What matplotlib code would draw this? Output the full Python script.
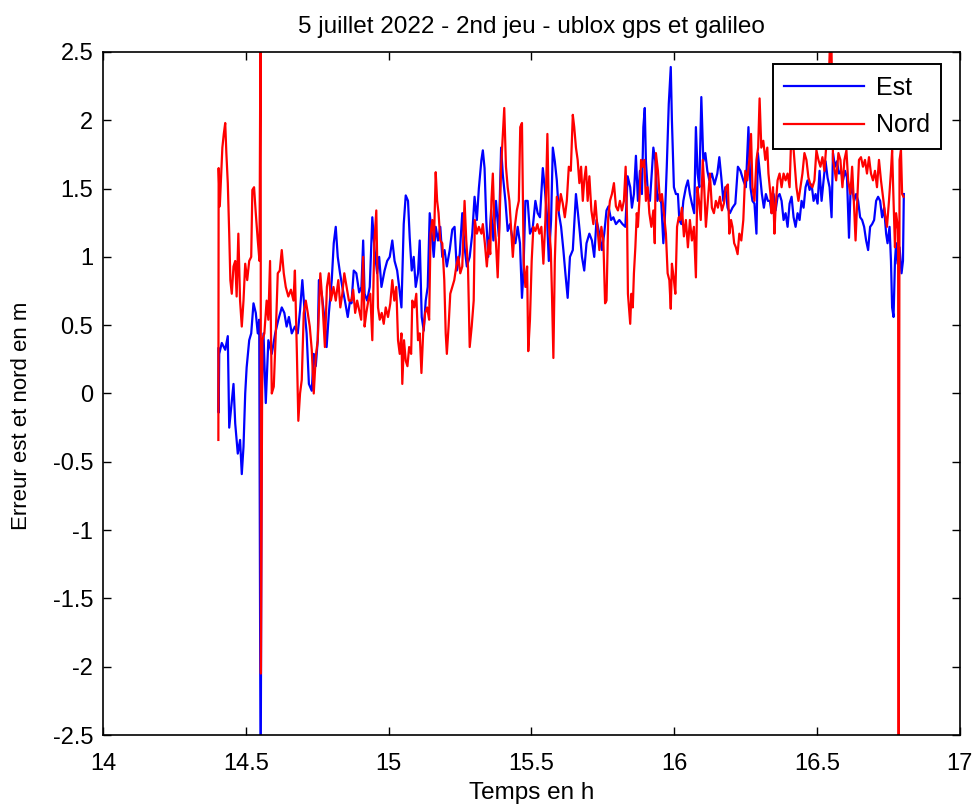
import matplotlib.pyplot as plt

plt.rcParams['font.family'] = ['Liberation Sans', 'DejaVu Sans']

# Est (blue) - hours / metres
est_t = [14.404, 14.405, 14.407, 14.416, 14.428, 14.437, 14.442, 14.449, 14.457, 14.463,
         14.472, 14.480, 14.486, 14.492, 14.498, 14.503, 14.512, 14.519, 14.527, 14.535,
         14.542, 14.547, 14.552, 14.556, 14.562, 14.570, 14.579, 14.591, 14.603, 14.614,
         14.626, 14.635, 14.643, 14.651, 14.661, 14.672, 14.682, 14.690, 14.698, 14.705,
         14.713, 14.721, 14.731, 14.738, 14.745, 14.752, 14.756, 14.766, 14.775, 14.783,
         14.791, 14.801, 14.808, 14.815, 14.822, 14.830, 14.838, 14.847, 14.857, 14.865,
         14.870, 14.878, 14.887, 14.897, 14.905, 14.911, 14.916, 14.925, 14.934, 14.943,
         14.951, 14.960, 14.967, 14.975, 14.986, 14.995, 15.004, 15.013, 15.021, 15.030,
         15.037, 15.045, 15.053, 15.060, 15.068, 15.074, 15.081, 15.088, 15.095, 15.103,
         15.109, 15.116, 15.123, 15.130, 15.137, 15.144, 15.151, 15.158, 15.165, 15.173,
         15.181, 15.188, 15.196, 15.204, 15.214, 15.223, 15.231, 15.239, 15.249, 15.258,
         15.266, 15.274, 15.284, 15.293, 15.301, 15.309, 15.316, 15.325, 15.330, 15.336,
         15.342, 15.349, 15.359, 15.367, 15.376, 15.386, 15.394, 15.400, 15.409, 15.417,
         15.425, 15.435, 15.444, 15.452, 15.460, 15.467, 15.472, 15.479, 15.487, 15.495,
         15.505, 15.514, 15.522, 15.530, 15.540, 15.547, 15.554, 15.561, 15.569, 15.575,
         15.582, 15.589, 15.596, 15.604, 15.612, 15.619, 15.627, 15.635, 15.645, 15.652,
         15.656, 15.663, 15.670, 15.677, 15.685, 15.693, 15.703, 15.712, 15.720, 15.728,
         15.738, 15.747, 15.755, 15.763, 15.770, 15.779, 15.787, 15.796, 15.808, 15.819,
         15.829, 15.837, 15.846, 15.852, 15.859, 15.866, 15.873, 15.880, 15.887, 15.892,
         15.897, 15.901, 15.908, 15.915, 15.922, 15.927, 15.934, 15.941, 15.948, 15.955,
         15.962, 15.967, 15.974, 15.981, 15.988, 15.992, 15.999, 16.006, 16.013, 16.018,
         16.025, 16.032, 16.041, 16.048, 16.055, 16.062, 16.070, 16.076, 16.082, 16.088,
         16.095, 16.102, 16.109, 16.116, 16.123, 16.132, 16.141, 16.151, 16.158, 16.165,
         16.172, 16.179, 16.187, 16.195, 16.204, 16.214, 16.223, 16.232, 16.242, 16.251,
         16.260, 16.267, 16.274, 16.281, 16.288, 16.293, 16.300, 16.307, 16.314, 16.321,
         16.328, 16.335, 16.341, 16.348, 16.355, 16.362, 16.369, 16.376, 16.383, 16.390,
         16.397, 16.404, 16.411, 16.418, 16.425, 16.432, 16.439, 16.446, 16.453, 16.460,
         16.467, 16.474, 16.481, 16.488, 16.495, 16.502, 16.509, 16.516, 16.523, 16.530,
         16.537, 16.544, 16.551, 16.556, 16.563, 16.570, 16.577, 16.584, 16.591, 16.598,
         16.605, 16.612, 16.617, 16.623, 16.630, 16.637, 16.644, 16.651, 16.658, 16.665,
         16.672, 16.679, 16.686, 16.693, 16.700, 16.707, 16.714, 16.721, 16.728, 16.735,
         16.742, 16.747, 16.754, 16.759, 16.763, 16.768, 16.773, 16.777, 16.782, 16.789,
         16.796, 16.801, 16.804]
est_v = [0.33, -0.14, 0.29, 0.37, 0.32, 0.42, -0.25, -0.10, 0.07, -0.22,
         -0.44, -0.34, -0.59, -0.39, 0.00, 0.19, 0.39, 0.44, 0.66, 0.59,
         0.44, 0.54, -3.00, 0.00, 0.44, -0.07, 0.39, 0.29, 0.44, 0.54,
         0.63, 0.59, 0.49, 0.56, 0.44, 0.49, 0.44, 0.61, 0.83, 0.63,
         0.44, 0.07, 0.02, 0.29, 0.20, 0.39, 0.83, 0.73, 0.56, 0.34,
         0.59, 0.83, 1.10, 1.22, 1.00, 0.88, 0.78, 0.68, 0.56, 0.68,
         0.66, 0.90, 0.88, 0.74, 0.78, 1.12, 0.73, 0.68, 0.78, 1.29,
         1.05, 0.88, 1.00, 0.78, 0.90, 0.97, 1.00, 1.12, 0.97, 0.90,
         0.78, 0.63, 1.24, 1.45, 1.41, 1.14, 0.90, 1.00, 0.78, 0.88,
         1.12, 0.56, 0.46, 0.68, 0.78, 1.32, 1.17, 1.00, 1.22, 1.12,
         1.22, 1.00, 1.05, 0.93, 1.05, 1.20, 1.22, 0.90, 1.02, 1.32,
         1.07, 0.93, 1.00, 1.17, 1.44, 1.27, 1.50, 1.71, 1.78, 1.65,
         1.27, 1.00, 1.34, 1.12, 1.41, 1.15, 1.80, 1.60, 1.41, 1.19,
         1.24, 1.12, 1.10, 1.22, 1.10, 0.70, 0.88, 1.41, 1.41, 1.17,
         1.22, 1.41, 1.32, 1.29, 1.65, 1.50, 1.32, 0.97, 1.27, 1.80,
         1.70, 1.56, 1.32, 1.22, 1.05, 0.88, 0.70, 1.00, 1.05, 1.32,
         1.46, 1.32, 1.17, 1.00, 0.90, 1.10, 1.17, 1.12, 1.00, 1.27,
         1.17, 1.05, 1.17, 1.34, 1.37, 1.27, 1.29, 1.24, 1.27, 1.24,
         1.22, 1.59, 1.51, 1.36, 1.46, 1.74, 1.41, 1.63, 1.46, 1.95,
         2.09, 1.70, 1.46, 1.41, 1.63, 1.80, 1.70, 1.41, 1.46, 1.39,
         1.10, 1.27, 1.66, 2.12, 2.39, 2.00, 1.51, 1.46, 1.46, 1.27,
         1.24, 1.41, 1.51, 1.56, 1.46, 1.39, 1.32, 1.95, 1.61, 1.51,
         2.17, 1.70, 1.76, 1.63, 1.56, 1.61, 1.53, 1.61, 1.73, 1.58,
         1.41, 1.51, 1.36, 1.32, 1.36, 1.39, 1.66, 1.63, 1.56, 1.51,
         1.95, 1.51, 1.41, 1.39, 1.17, 1.76, 1.61, 1.46, 1.36, 1.46,
         1.41, 1.41, 1.32, 1.46, 1.34, 1.44, 1.46, 1.41, 1.27, 1.32,
         1.22, 1.39, 1.44, 1.29, 1.22, 1.32, 1.27, 1.41, 1.36, 1.51,
         1.56, 1.49, 1.53, 1.41, 1.46, 1.39, 1.63, 1.41, 1.56, 1.70,
         1.58, 1.51, 1.29, 1.76, 1.66, 1.70, 1.61, 1.63, 1.56, 1.63,
         1.58, 1.14, 1.46, 1.51, 1.41, 1.46, 1.41, 1.29, 1.27, 1.22,
         1.12, 1.05, 1.22, 1.24, 1.27, 1.41, 1.44, 1.41, 1.29, 1.36,
         1.17, 1.10, 1.22, 0.97, 0.63, 0.56, 0.97, 1.10, 0.95, 1.07,
         0.88, 0.97, 1.46]

# Nord (red)
nord_t = [14.404, 14.405, 14.409, 14.414, 14.418, 14.423, 14.428, 14.432, 14.437, 14.442,
          14.446, 14.451, 14.457, 14.463, 14.468, 14.474, 14.480, 14.486, 14.492, 14.498,
          14.505, 14.512, 14.519, 14.523, 14.529, 14.535, 14.542, 14.548, 14.552, 14.553,
          14.558, 14.565, 14.573, 14.579, 14.585, 14.591, 14.598, 14.605, 14.612, 14.619,
          14.626, 14.633, 14.640, 14.649, 14.658, 14.667, 14.672, 14.679, 14.684, 14.690,
          14.696, 14.703, 14.710, 14.717, 14.724, 14.731, 14.738, 14.745, 14.752, 14.761,
          14.768, 14.777, 14.784, 14.791, 14.798, 14.807, 14.815, 14.824, 14.831, 14.838,
          14.845, 14.853, 14.861, 14.870, 14.876, 14.883, 14.890, 14.897, 14.904, 14.911,
          14.916, 14.922, 14.929, 14.936, 14.943, 14.950, 14.957, 14.963, 14.969, 14.976,
          14.983, 14.990, 14.998, 15.006, 15.013, 15.020, 15.027, 15.033, 15.039, 15.045,
          15.048, 15.054, 15.060, 15.066, 15.072, 15.079, 15.083, 15.090, 15.097, 15.103,
          15.109, 15.115, 15.121, 15.128, 15.135, 15.142, 15.147, 15.153, 15.159, 15.165,
          15.170, 15.175, 15.181, 15.188, 15.195, 15.200, 15.204, 15.210, 15.216, 15.223,
          15.230, 15.237, 15.244, 15.251, 15.258, 15.266, 15.272, 15.278, 15.284, 15.291,
          15.298, 15.302, 15.309, 15.316, 15.325, 15.330, 15.337, 15.344, 15.351, 15.356,
          15.360, 15.365, 15.370, 15.376, 15.382, 15.388, 15.394, 15.400, 15.405, 15.411,
          15.417, 15.423, 15.430, 15.435, 15.442, 15.449, 15.456, 15.461, 15.467, 15.473,
          15.479, 15.485, 15.489, 15.495, 15.501, 15.507, 15.514, 15.521, 15.528, 15.535,
          15.542, 15.549, 15.556, 15.562, 15.568, 15.572, 15.577, 15.582, 15.589, 15.596,
          15.603, 15.610, 15.617, 15.624, 15.631, 15.638, 15.645, 15.650, 15.656, 15.662,
          15.668, 15.674, 15.680, 15.685, 15.691, 15.697, 15.703, 15.710, 15.717, 15.724,
          15.731, 15.738, 15.745, 15.752, 15.758, 15.763, 15.769, 15.775, 15.782, 15.789,
          15.796, 15.803, 15.810, 15.817, 15.824, 15.830, 15.835, 15.838, 15.846, 15.850,
          15.855, 15.859, 15.864, 15.869, 15.873, 15.878, 15.884, 15.890, 15.895, 15.901,
          15.907, 15.913, 15.920, 15.927, 15.932, 15.936, 15.943, 15.950, 15.957, 15.964,
          15.971, 15.977, 15.983, 15.988, 15.992, 15.998, 16.004, 16.010, 16.016, 16.021,
          16.027, 16.034, 16.041, 16.048, 16.055, 16.062, 16.069, 16.076, 16.081, 16.087,
          16.093, 16.100, 16.105, 16.111, 16.118, 16.125, 16.132, 16.139, 16.146, 16.153,
          16.160, 16.167, 16.174, 16.181, 16.188, 16.193, 16.199, 16.204, 16.210, 16.216,
          16.222, 16.228, 16.235, 16.242, 16.249, 16.256, 16.263, 16.269, 16.274, 16.281,
          16.288, 16.294, 16.299, 16.305, 16.312, 16.319, 16.326, 16.330, 16.337, 16.341,
          16.346, 16.351, 16.355, 16.362, 16.369, 16.376, 16.383, 16.390, 16.397, 16.404,
          16.409, 16.414, 16.421, 16.428, 16.435, 16.442, 16.449, 16.456, 16.463, 16.470,
          16.477, 16.484, 16.491, 16.498, 16.505, 16.512, 16.519, 16.526, 16.533, 16.538,
          16.549, 16.556, 16.560, 16.567, 16.575, 16.582, 16.589, 16.596, 16.603, 16.609,
          16.617, 16.623, 16.630, 16.635, 16.640, 16.647, 16.654, 16.661, 16.668, 16.675,
          16.682, 16.689, 16.696, 16.703, 16.710, 16.717, 16.724, 16.731, 16.738, 16.745,
          16.752, 16.759, 16.763, 16.768, 16.773, 16.777, 16.784, 16.785, 16.786, 16.789,
          16.794, 16.798, 16.803]
nord_v = [-0.34, 1.65, 1.37, 1.61, 1.80, 1.90, 1.98, 1.76, 1.54, 1.17,
          0.83, 0.73, 0.93, 0.97, 0.71, 1.17, 0.68, 0.49, 0.68, 0.95,
          0.83, 0.97, 1.00, 1.49, 1.51, 1.32, 1.12, 0.97, 3.00, -2.05,
          0.39, 0.44, 0.68, 0.54, 0.97, 0.00, 0.05, 0.44, 0.88, 0.90,
          1.05, 0.88, 0.78, 0.71, 0.76, 0.68, 0.90, 0.29, -0.20, 0.00,
          0.10, 0.59, 0.68, 0.59, 0.49, 0.32, 0.00, 0.27, 0.39, 0.88,
          0.68, 0.34, 0.78, 0.88, 0.68, 0.78, 0.68, 0.83, 0.63, 0.73,
          0.88, 0.78, 0.68, 0.68, 0.76, 0.59, 0.68, 0.61, 0.54, 1.00,
          0.49, 0.59, 0.68, 0.73, 0.39, 1.10, 1.34, 0.63, 0.54, 0.59,
          0.51, 0.63, 0.56, 0.66, 0.83, 0.68, 0.78, 0.39, 0.29, 0.44,
          0.07, 0.39, 0.24, 0.20, 0.34, 0.29, 0.68, 0.63, 0.73, 0.39,
          0.44, 0.15, 0.44, 0.59, 0.63, 0.54, 1.17, 1.27, 1.12, 1.62,
          1.41, 1.32, 1.12, 1.10, 0.83, 0.44, 0.29, 0.49, 0.73, 0.78,
          0.83, 0.93, 1.00, 0.88, 0.93, 1.41, 1.12, 0.93, 0.34, 0.49,
          0.68, 1.27, 1.17, 1.22, 1.17, 1.24, 1.10, 0.93, 1.12, 1.02,
          1.41, 1.61, 1.27, 1.10, 0.85, 1.22, 1.66, 1.90, 2.09, 1.66,
          1.51, 1.41, 1.17, 1.00, 1.22, 1.34, 1.41, 1.95, 1.98, 0.97,
          0.78, 0.93, 0.31, 0.54, 0.97, 1.22, 1.19, 1.24, 1.17, 1.22,
          0.95, 1.27, 1.90, 1.22, 1.05, 0.73, 0.26, 0.97, 1.44, 1.34,
          1.46, 1.39, 1.29, 1.41, 1.66, 1.63, 2.04, 1.95, 1.80, 1.71,
          1.54, 1.66, 1.41, 1.56, 1.66, 1.41, 1.59, 1.34, 1.24, 1.41,
          1.22, 1.05, 1.22, 1.12, 0.66, 0.68, 1.29, 1.41, 1.46, 1.54,
          1.37, 1.34, 1.41, 1.34, 1.41, 1.66, 1.27, 0.73, 0.51, 0.73,
          0.63, 0.88, 1.07, 1.32, 1.22, 1.41, 1.71, 1.66, 1.71, 1.41,
          1.51, 1.32, 1.22, 1.34, 1.10, 1.76, 1.63, 1.41, 1.46, 1.32,
          1.17, 0.88, 0.83, 0.62, 0.95, 0.85, 0.73, 1.22, 1.29, 1.27,
          1.36, 1.15, 1.27, 1.07, 1.27, 1.12, 1.22, 0.85, 1.51, 1.41,
          1.27, 1.71, 1.51, 1.22, 1.41, 1.61, 1.36, 1.32, 1.41, 1.36,
          1.44, 1.34, 1.39, 1.51, 1.53, 1.17, 1.27, 1.22, 1.10, 1.07,
          1.02, 1.17, 1.12, 1.27, 1.63, 1.56, 1.71, 1.90, 1.51, 1.41,
          1.71, 1.80, 2.16, 1.80, 1.85, 1.71, 1.80, 1.61, 1.46, 1.32,
          1.51, 1.17, 1.36, 1.56, 1.61, 1.51, 1.61, 1.56, 1.61, 1.51,
          1.83, 1.90, 1.71, 1.51, 1.41, 1.51, 1.61, 1.76, 1.71, 1.58,
          1.53, 1.51, 1.56, 1.78, 1.71, 1.66, 1.73, 1.63, 1.83, 2.07,
          2.80, 1.71, 1.66, 1.56, 1.76, 1.71, 1.51, 1.71, 1.78, 1.56,
          1.46, 1.66, 1.36, 1.12, 1.36, 1.71, 1.73, 1.66, 1.71, 1.61,
          1.73, 1.61, 1.56, 1.63, 1.51, 1.71, 1.56, 1.44, 1.32, 1.22,
          1.41, 1.63, 1.78, 1.41, 1.07, 1.32, 1.20, -1.63, -3.00, 1.71,
          1.78, 1.46, 1.44]

fig = plt.figure(figsize=(9.77, 8.07), dpi=100)
ax = fig.add_axes([0.1054, 0.0892, 0.8770, 0.8464])

ax.plot(est_t, est_v, color=(0, 0, 1), lw=1.6, label='Est')
ax.plot(nord_t, nord_v, color=(1, 0, 0), lw=1.6, label='Nord')

ax.set_xlim(14, 17)
ax.set_ylim(-2.5, 2.5)
ax.set_xticks([14, 14.5, 15, 15.5, 16, 16.5, 17])
ax.set_xticklabels(['14', '14.5', '15', '15.5', '16', '16.5', '17'])
yt = [-2.5, -2, -1.5, -1, -0.5, 0, 0.5, 1, 1.5, 2, 2.5]
ax.set_yticks(yt)
ax.set_yticklabels(['-2.5', '-2', '-1.5', '-1', '-0.5', '0', '0.5', '1', '1.5', '2', '2.5'])
ax.tick_params(direction='in', top=True, right=True, length=6, width=1,
               labelsize=17, pad=7)
ax.tick_params(axis='x', pad=13)
for s in ax.spines.values():
    s.set_linewidth(1.2)

ax.set_title('5 juillet 2022 - 2nd jeu - ublox gps et galileo', fontsize=17.5, pad=14)
ax.set_xlabel('Temps en h', fontsize=17.5, labelpad=5)
ax.set_ylabel('Erreur est et nord en m', fontsize=16)
ax.yaxis.set_label_coords(-0.083, 0.467)

leg = ax.legend(loc='upper right', bbox_to_anchor=(0.978, 0.982), fontsize=18,
                fancybox=False, framealpha=1, edgecolor='black', handlelength=3.2,
                handletextpad=0.45, borderaxespad=0, borderpad=0.45, labelspacing=0.55)
leg.get_frame().set_linewidth(1.4)

fig.savefig('out.png', dpi=100)
